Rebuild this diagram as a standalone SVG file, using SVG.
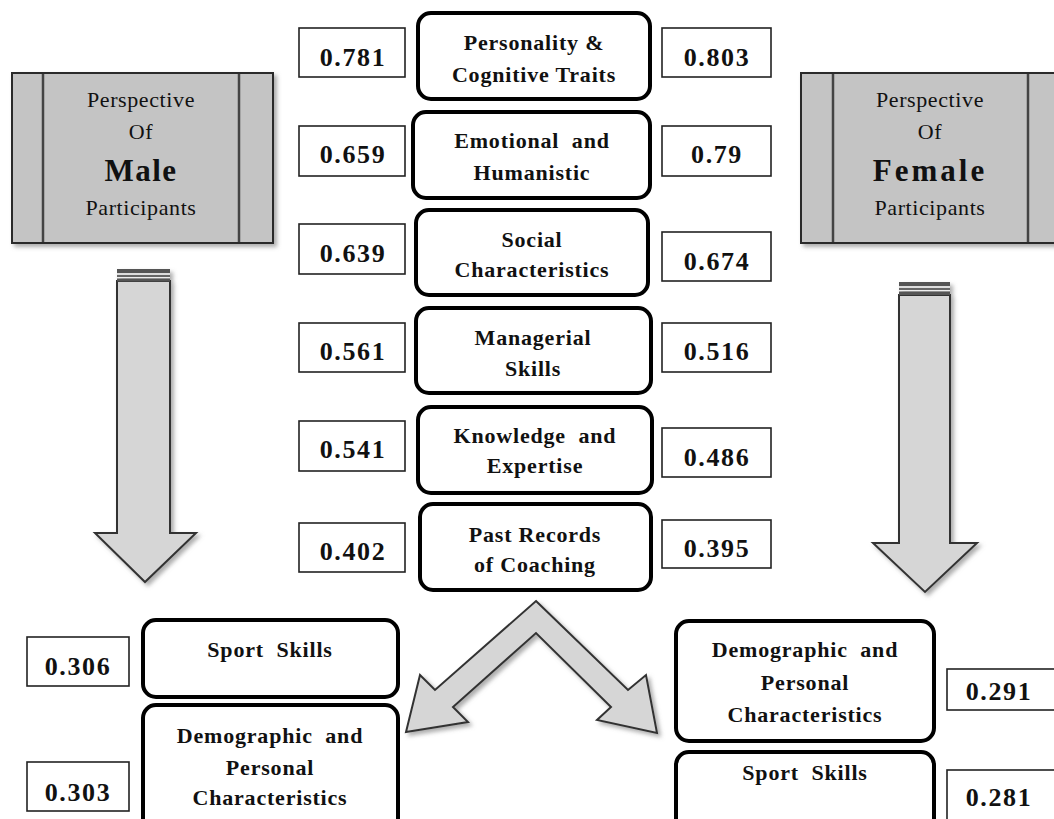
<svg xmlns="http://www.w3.org/2000/svg" width="1054" height="819" viewBox="0 0 1054 819">
<defs>
<filter id="sh" x="-20%" y="-20%" width="140%" height="140%">
<feDropShadow dx="3" dy="3" stdDeviation="2" flood-color="#777" flood-opacity="0.6"/>
</filter>
<style>
.num{fill:#fff;stroke:#222;stroke-width:1.6}
.numt{font-family:"Liberation Serif",serif;font-weight:bold;font-size:26px;letter-spacing:1.6px;fill:#111;text-anchor:middle}
.cb{fill:#fff;stroke:#000;stroke-width:4}
.ct{font-family:"Liberation Serif",serif;font-weight:bold;font-size:22px;letter-spacing:0.8px;fill:#111;text-anchor:middle}
.pb{fill:#c4c4c4;stroke:#2a2a2a;stroke-width:2}
.pl{stroke:#444;stroke-width:2.5}
.pt{font-family:"Liberation Serif",serif;font-size:22px;letter-spacing:0.6px;fill:#111;text-anchor:middle}
.pbig{font-family:"Liberation Serif",serif;font-weight:bold;font-size:31px;fill:#111;text-anchor:middle}
.arr{fill:#d6d6d6;stroke:#333;stroke-width:2;stroke-linejoin:miter}
</style>
</defs>
<rect width="1054" height="819" fill="#fff"/>

<g id="male-perspective">
<rect class="pb" x="12" y="73" width="261" height="170" filter="url(#sh)"/>
<line class="pl" x1="43" y1="74" x2="43" y2="242"/>
<line class="pl" x1="239" y1="74" x2="239" y2="242"/>
<text class="pt" x="141" y="107">Perspective</text>
<text class="pt" x="141" y="139">Of</text>
<text class="pbig" x="141" y="181" letter-spacing="1.5">Male</text>
<text class="pt" x="141" y="215">Participants</text>
</g>

<g id="female-perspective">
<rect class="pb" x="801" y="73" width="262" height="170" filter="url(#sh)"/>
<line class="pl" x1="833" y1="74" x2="833" y2="242"/>
<line class="pl" x1="1028" y1="74" x2="1028" y2="242"/>
<text class="pt" x="930" y="107">Perspective</text>
<text class="pt" x="930" y="139">Of</text>
<text class="pbig" x="930" y="181" letter-spacing="3">Female</text>
<text class="pt" x="930" y="215">Participants</text>
</g>

<g id="connectors">
<g id="male-arrow" filter="url(#sh)">
<polygon class="arr" points="117,281 170,281 170,533 196,533 145,582 95,533 117,533"/>
<rect x="117" y="269" width="53" height="4" fill="#555"/>
<rect x="117" y="273" width="53" height="2" fill="#ddd"/>
<rect x="117" y="275" width="53" height="2" fill="#666"/>
<rect x="117" y="277" width="53" height="1.5" fill="#eee"/>
<rect x="117" y="278.5" width="53" height="3" fill="#555"/>
</g>
<g id="female-arrow" filter="url(#sh)">
<polygon class="arr" points="899,295 950,295 950,543 977,543 925,592 873,543 899,543"/>
<rect x="899" y="282" width="51" height="4" fill="#555"/>
<rect x="899" y="286" width="51" height="2" fill="#ddd"/>
<rect x="899" y="288" width="51" height="2" fill="#666"/>
<rect x="899" y="290" width="51" height="1.5" fill="#eee"/>
<rect x="899" y="291.5" width="51" height="3.5" fill="#555"/>
</g>
<polygon id="split-arrow" class="arr" filter="url(#sh)" points="536,601 628,690 646,675 657,733 597,720 611,707 536,633 453,707 468,722 406,732 420,675 435,690"/>
</g>

<g id="n1">
<rect class="num" x="299" y="28" width="106" height="49"/><text class="numt" x="353" y="66">0.781</text>
<rect class="cb" x="418" y="13" width="232" height="86" rx="13"/>
<text class="ct" x="534" y="50">Personality &amp;</text>
<text class="ct" x="534" y="82">Cognitive  Traits</text>
<rect class="num" x="662" y="28" width="109" height="49"/><text class="numt" x="717" y="66">0.803</text>
</g>
<g id="n2">
<rect class="num" x="299" y="126" width="106" height="50"/><text class="numt" x="353" y="163">0.659</text>
<rect class="cb" x="413" y="112" width="237" height="86" rx="13"/>
<text class="ct" x="532" y="148" xml:space="preserve">Emotional  and</text>
<text class="ct" x="532" y="180">Humanistic</text>
<rect class="num" x="662" y="126" width="109" height="50"/><text class="numt" x="717" y="163">0.79</text>
</g>
<g id="n3">
<rect class="num" x="299" y="224" width="106" height="50"/><text class="numt" x="353" y="262">0.639</text>
<rect class="cb" x="416" y="210" width="232" height="85" rx="13"/>
<text class="ct" x="532" y="247">Social</text>
<text class="ct" x="532" y="277">Characteristics</text>
<rect class="num" x="662" y="232" width="109" height="49"/><text class="numt" x="717" y="270">0.674</text>
</g>
<g id="n4">
<rect class="num" x="299" y="323" width="106" height="49"/><text class="numt" x="353" y="360">0.561</text>
<rect class="cb" x="416" y="308" width="235" height="85" rx="13"/>
<text class="ct" x="533" y="345">Managerial</text>
<text class="ct" x="533" y="376">Skills</text>
<rect class="num" x="662" y="323" width="109" height="49"/><text class="numt" x="717" y="360">0.516</text>
</g>
<g id="n5">
<rect class="num" x="299" y="421" width="106" height="50"/><text class="numt" x="353" y="458">0.541</text>
<rect class="cb" x="418" y="407" width="234" height="86" rx="13"/>
<text class="ct" x="535" y="443" xml:space="preserve">Knowledge  and</text>
<text class="ct" x="535" y="473">Expertise</text>
<rect class="num" x="662" y="428" width="109" height="49"/><text class="numt" x="717" y="466">0.486</text>
</g>
<g id="n6">
<rect class="num" x="299" y="523" width="106" height="49"/><text class="numt" x="353" y="560">0.402</text>
<rect class="cb" x="420" y="504" width="231" height="86" rx="13"/>
<text class="ct" x="535" y="542">Past Records</text>
<text class="ct" x="535" y="572">of Coaching</text>
<rect class="num" x="662" y="520" width="109" height="48"/><text class="numt" x="717" y="557">0.395</text>
</g>

<g id="m-sport">
<rect class="num" x="27" y="637" width="102" height="49"/><text class="numt" x="78" y="675">0.306</text>
<rect class="cb" x="143" y="620" width="255" height="77" rx="13"/>
<text class="ct" x="270" y="657" xml:space="preserve">Sport  Skills</text>
</g>
<g id="m-demo">
<rect class="num" x="27" y="762" width="102" height="49"/><text class="numt" x="78" y="801">0.303</text>
<rect class="cb" x="143" y="705" width="255" height="130" rx="13"/>
<text class="ct" x="270" y="743" xml:space="preserve">Demographic  and</text>
<text class="ct" x="270" y="775">Personal</text>
<text class="ct" x="270" y="805">Characteristics</text>
</g>
<g id="f-demo">
<rect class="cb" x="676" y="621" width="258" height="120" rx="13"/>
<text class="ct" x="805" y="657" xml:space="preserve">Demographic  and</text>
<text class="ct" x="805" y="690">Personal</text>
<text class="ct" x="805" y="722">Characteristics</text>
<rect class="num" x="947" y="669" width="115" height="41"/><text class="numt" x="999" y="700">0.291</text>
</g>
<g id="f-sport">
<rect class="cb" x="676" y="752" width="258" height="90" rx="13"/>
<text class="ct" x="805" y="780" xml:space="preserve">Sport  Skills</text>
<rect class="num" x="947" y="770" width="115" height="60"/><text class="numt" x="999" y="806">0.281</text>
</g>
</svg>
